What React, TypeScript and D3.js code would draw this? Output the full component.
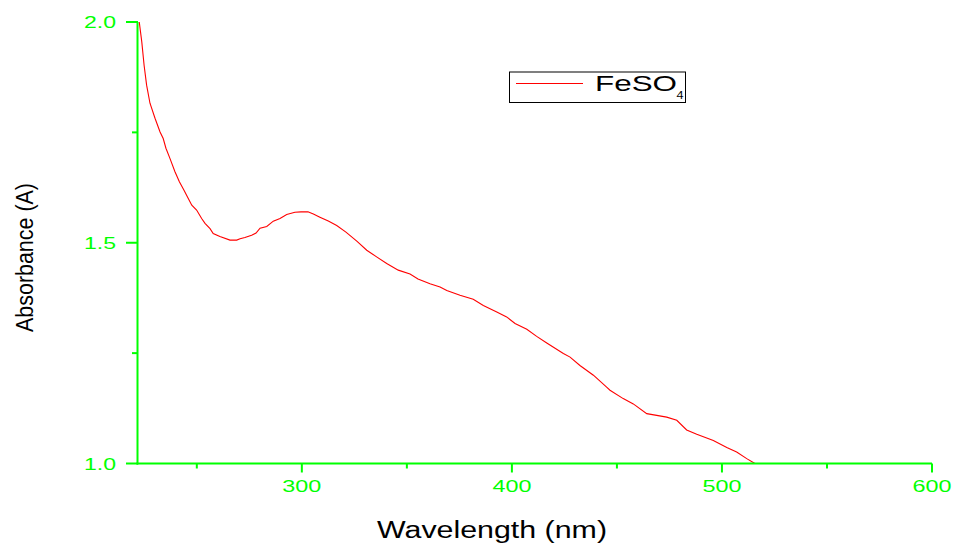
import React from "react";
import * as d3 from "d3";

const wavelength = [222.6, 223.8, 224.9, 226.1, 227.7, 230.1, 232.5, 234.0, 235.3, 237.2, 239.6, 241.7, 243.9, 245.5, 247.6, 249.9, 252.3, 253.9, 256.3, 257.8, 261.0, 265.8, 269.0, 270.6, 272.9, 276.1, 278.2, 280.1, 283.3, 286.4, 289.6, 292.8, 296.7, 299.6, 302.9, 305.5, 308.6, 312.6, 316.6, 321.0, 326.3, 330.9, 335.6, 340.4, 345.9, 351.5, 355.3, 361.0, 365.8, 369.0, 375.3, 381.6, 386.4, 392.8, 397.5, 401.5, 407.1, 411.8, 416.6, 424.5, 427.7, 432.4, 438.8, 445.1, 446.7, 453.0, 457.8, 464.2, 473.7, 478.5, 483.2, 488.0, 495.9, 502.3, 507.0, 511.8, 515.7];
const absorbance = [2.0, 1.955, 1.902, 1.857, 1.816, 1.782, 1.751, 1.736, 1.714, 1.691, 1.661, 1.638, 1.619, 1.604, 1.585, 1.574, 1.555, 1.544, 1.532, 1.521, 1.514, 1.506, 1.506, 1.509, 1.512, 1.517, 1.522, 1.533, 1.537, 1.549, 1.555, 1.564, 1.569, 1.570, 1.570, 1.565, 1.558, 1.549, 1.539, 1.524, 1.503, 1.483, 1.468, 1.453, 1.438, 1.429, 1.418, 1.407, 1.400, 1.392, 1.381, 1.372, 1.358, 1.343, 1.332, 1.317, 1.304, 1.288, 1.273, 1.249, 1.241, 1.222, 1.200, 1.173, 1.166, 1.147, 1.135, 1.113, 1.105, 1.098, 1.076, 1.066, 1.052, 1.036, 1.026, 1.011, 1.0];

const xMajorTicks = [300, 400, 500, 600];
const xMinorTicks = [250, 350, 450, 550];
const xTickLabels = ["300", "400", "500", "600"];
const yMajorTicks = [1.0, 1.5, 2.0];
const yMinorTicks = [1.25, 1.75];
const yTickLabels = ["1.0", "1.5", "2.0"];
const seriesName = "FeSO";
const seriesSub = "4";
const xTitle = "Wavelength (nm)";
const yTitle = "Absorbance (A)";

const GREEN = "#00ff00";
const FONT = "'Liberation Sans', Arial, sans-serif";

export default function App() {
  const x = d3.scaleLinear().domain([222, 600]).range([138, 932]);
  const y = d3.scaleLinear().domain([1.0, 2.0]).range([463.5, 22]);
  const data = wavelength.map((w, i) => [w, absorbance[i]] as [number, number]);
  const line = d3
    .line<[number, number]>()
    .x((d) => x(d[0]))
    .y((d) => y(d[1]));

  return (
    <div style={{ position: "absolute", left: 0, top: 0 }}>
      <svg width={954} height={544} style={{ display: "block", background: "#fff" }}>
        <rect width={954} height={544} fill="#fff" />
        {/* curve */}
        <path d={line(data) || ""} fill="none" stroke="#ff0000" strokeWidth={1.1} />
        {/* axes */}
        <line x1={x(222) - 0.5} x2={x(222) - 0.5} y1={y(2.0)} y2={y(1.0) + 1} stroke={GREEN} strokeWidth={2} />
        <line x1={x(222) - 1.5} x2={x(600)} y1={y(1.0)} y2={y(1.0)} stroke={GREEN} strokeWidth={2} />
        {yMajorTicks.map((t, i) => (
          <g key={"ym" + i}>
            <line x1={126} x2={x(222)} y1={y(t)} y2={y(t)} stroke={GREEN} strokeWidth={2} />
            <text
              x={116}
              y={y(t) + 6}
              textAnchor="end"
              fontFamily={FONT}
              fontSize={16.5}
              fill={GREEN}
              textLength={32}
              lengthAdjust="spacingAndGlyphs"
            >
              {yTickLabels[i]}
            </text>
          </g>
        ))}
        {yMinorTicks.map((t, i) => (
          <line key={"yn" + i} x1={132} x2={x(222)} y1={y(t)} y2={y(t)} stroke={GREEN} strokeWidth={2} />
        ))}
        {xMajorTicks.map((t, i) => (
          <g key={"xm" + i}>
            <line x1={x(t)} x2={x(t)} y1={y(1.0)} y2={y(1.0) + 9} stroke={GREEN} strokeWidth={2} />
            <text
              x={x(t)}
              y={492}
              textAnchor="middle"
              fontFamily={FONT}
              fontSize={16.5}
              fill={GREEN}
              textLength={39}
              lengthAdjust="spacingAndGlyphs"
            >
              {xTickLabels[i]}
            </text>
          </g>
        ))}
        {xMinorTicks.map((t, i) => (
          <line key={"xn" + i} x1={x(t)} x2={x(t)} y1={y(1.0)} y2={y(1.0) + 5} stroke={GREEN} strokeWidth={2} />
        ))}
        {/* axis titles */}
        <text
          x={492}
          y={538}
          textAnchor="middle"
          fontFamily={FONT}
          fontSize={23}
          fill="#000"
          textLength={230}
          lengthAdjust="spacingAndGlyphs"
        >
          {xTitle}
        </text>
        <text
          transform="translate(33,257.5) rotate(-90)"
          textAnchor="middle"
          fontFamily={FONT}
          fontSize={23}
          fill="#000"
          textLength={149}
          lengthAdjust="spacingAndGlyphs"
        >
          {yTitle}
        </text>
        {/* legend */}
        <rect x={509.5} y={72} width={176} height={30.5} fill="#fff" stroke="#000" strokeWidth={1} />
        <line x1={516} x2={583} y1={83.5} y2={83.5} stroke="#ff0000" strokeWidth={1.1} />
        <text
          x={595}
          y={91}
          fontFamily={FONT}
          fontSize={22}
          fill="#000"
          textLength={82}
          lengthAdjust="spacingAndGlyphs"
        >
          {seriesName}
        </text>
        <text
          x={676.5}
          y={99}
          fontFamily={FONT}
          fontSize={10.5}
          fill="#000"
          textLength={7}
          lengthAdjust="spacingAndGlyphs"
        >
          {seriesSub}
        </text>
      </svg>
    </div>
  );
}
